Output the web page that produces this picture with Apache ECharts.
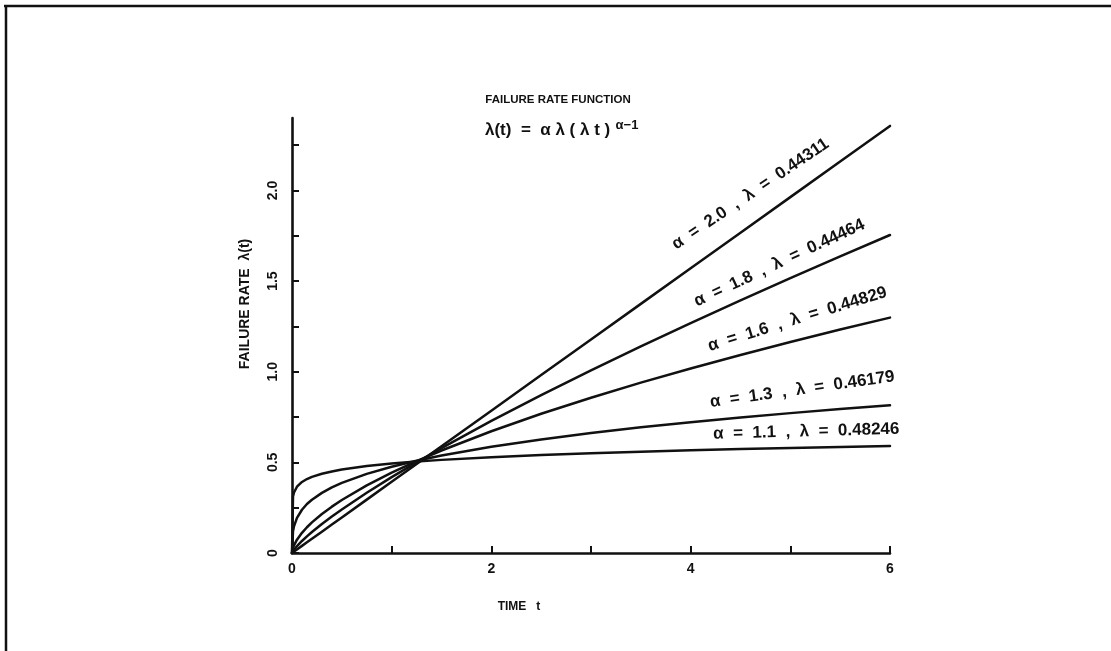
<!DOCTYPE html>
<html>
<head>
<meta charset="utf-8">
<script src="https://cdn.jsdelivr.net/npm/echarts@6/dist/echarts.min.js"></script>
<style>
  html, body { margin: 0; padding: 0; background: #ffffff; }
  #chart { width: 1111px; height: 651px; }
</style>
</head>
<body>
<div id="chart"></div>
<script>
// Time points (t) at which each failure-rate curve is sampled
const timeT = [0, 0.01, 0.02, 0.05, 0.1, 0.15, 0.2, 0.3, 0.4, 0.5, 0.75, 1, 1.25, 1.5, 2, 2.5, 3, 3.5, 4, 4.5, 5, 5.5, 6];

// Failure rate λ(t) for each shape/scale pair
const rateA20 = [0, 0.0039, 0.0079, 0.0196, 0.0393, 0.0589, 0.0785, 0.1178, 0.1571, 0.1963, 0.2945, 0.3927, 0.4909, 0.5890, 0.7854, 0.9817, 1.1781, 1.3744, 1.5708, 1.7671, 1.9635, 2.1598, 2.3562];
const rateA18 = [0, 0.0105, 0.0183, 0.0381, 0.0663, 0.0917, 0.1155, 0.1597, 0.2010, 0.2403, 0.3324, 0.4185, 0.5002, 0.5788, 0.7286, 0.8710, 1.0077, 1.1400, 1.2685, 1.3939, 1.5165, 1.6366, 1.7546];
const rateA16 = [0, 0.0280, 0.0424, 0.0735, 0.1113, 0.1420, 0.1688, 0.2152, 0.2557, 0.2924, 0.3730, 0.4432, 0.5067, 0.5653, 0.6718, 0.7680, 0.8568, 0.9398, 1.0183, 1.0928, 1.1641, 1.2327, 1.2987];
const rateA13 = [0, 0.1196, 0.1472, 0.1938, 0.2386, 0.2702, 0.2938, 0.3318, 0.3620, 0.3867, 0.4368, 0.4761, 0.5091, 0.5377, 0.5862, 0.6268, 0.6620, 0.6933, 0.7217, 0.7476, 0.7717, 0.7940, 0.8150];
const rateA11 = [0, 0.3113, 0.3337, 0.3657, 0.3919, 0.4081, 0.4201, 0.4374, 0.4501, 0.4604, 0.4794, 0.4934, 0.5046, 0.5138, 0.5288, 0.5408, 0.5507, 0.5593, 0.5668, 0.5735, 0.5796, 0.5851, 0.5902];

const curveNames = [
  'α  =  2.0  ,  λ  =  0.44311',
  'α  =  1.8  ,  λ  =  0.44464',
  'α  =  1.6  ,  λ  =  0.44829',
  'α  =  1.3  ,  λ  =  0.46179',
  'α  =  1.1  ,  λ  =  0.48246'
];
const curveValues = [rateA20, rateA18, rateA16, rateA13, rateA11];

// Curve label anchors in data space (t, λ) and their slant in degrees
const labelAnchorT = [4.60, 4.89, 5.07, 5.12, 5.16];
const labelAnchorY = [1.980, 1.600, 1.290, 0.902, 0.670];
const labelAngle = [34, 25, 17, 8, 1.5];

// Axis ticks and labels
const xTickValues = [0, 1, 2, 3, 4, 5, 6];
const xLabelValues = [0, 2, 4, 6];
const yTickValues = [0, 0.25, 0.5, 0.75, 1, 1.25, 1.5, 1.75, 2, 2.25];
const yLabelValues = [0, 0.5, 1, 1.5, 2];

const titleText = 'FAILURE RATE FUNCTION';
const xAxisTitle = 'TIME   t';
const yAxisTitle = 'FAILURE RATE  λ(t)';

const FONT = '"Liberation Sans", Arial, sans-serif';
const INK = '#111111';

const chart = echarts.init(document.getElementById('chart'), null, { renderer: 'canvas' });

const series = curveValues.map((vals, i) => ({
  name: curveNames[i],
  type: 'line',
  data: timeT.map((t, k) => [t, vals[k]]),
  showSymbol: false,
  smooth: false,
  silent: true,
  lineStyle: { color: INK, width: 2.5, join: 'round', cap: 'round' },
  z: 3
}));

chart.setOption({
  backgroundColor: '#ffffff',
  animation: false,
  grid: { left: 292, right: 221, top: 118, bottom: 98, containLabel: false },
  xAxis: {
    type: 'value',
    min: 0, max: 6,
    axisLine: { show: true, onZero: false, lineStyle: { color: INK, width: 2.6 } },
    axisTick: { show: true, inside: true, length: 7, customValues: xTickValues, lineStyle: { color: INK, width: 2 } },
    axisLabel: {
      customValues: xLabelValues,
      color: INK, fontFamily: FONT, fontWeight: 'bold', fontSize: 14, margin: 9,
      formatter: v => String(v)
    },
    splitLine: { show: false }
  },
  yAxis: {
    type: 'value',
    min: 0, max: 2.4,
    axisLine: { show: true, onZero: false, lineStyle: { color: INK, width: 2.6 } },
    axisTick: { show: true, inside: true, length: 7, customValues: yTickValues, lineStyle: { color: INK, width: 2 } },
    axisLabel: {
      customValues: yLabelValues,
      rotate: 90,
      color: INK, fontFamily: FONT, fontWeight: 'bold', fontSize: 14, margin: 12,
      formatter: v => (v === 0 ? '0' : v.toFixed(1))
    },
    splitLine: { show: false }
  },
  series: series
});

// Fixed page furniture: frame rules, title, formula and axis titles
const furniture = [
  { type: 'line', shape: { x1: 4, y1: 6, x2: 1111, y2: 6 }, style: { stroke: INK, lineWidth: 2.5 }, silent: true },
  { type: 'line', shape: { x1: 6, y1: 5, x2: 6, y2: 651 }, style: { stroke: INK, lineWidth: 2.5 }, silent: true },
  {
    type: 'text', silent: true, x: 558, y: 100,
    style: { text: titleText, x: 0, y: 0, align: 'center', verticalAlign: 'middle', fill: INK, font: 'bold 11.5px ' + FONT }
  },
  {
    type: 'text', silent: true, x: 485, y: 130,
    style: {
      x: 0, y: 0, align: 'left', verticalAlign: 'middle', fill: INK,
      text: '{m|λ(t)  =  α λ ( λ t )} {s|α−1}',
      rich: {
        m: { fontFamily: FONT, fontWeight: 'bold', fontSize: 17, fill: INK },
        s: { fontFamily: FONT, fontWeight: 'bold', fontSize: 13, fill: INK, verticalAlign: 'top', padding: [0, 0, 10, 2] }
      }
    }
  },
  {
    type: 'text', silent: true, x: 519, y: 607,
    style: { text: xAxisTitle, x: 0, y: 0, align: 'center', verticalAlign: 'middle', fill: INK, font: 'bold 12px ' + FONT }
  },
  {
    type: 'text', silent: true, x: 245, y: 304, rotation: Math.PI / 2,
    style: { text: yAxisTitle, x: 0, y: 0, align: 'center', verticalAlign: 'middle', fill: INK, font: 'bold 14px ' + FONT }
  }
];

// Curve labels, slanted along each line and placed from data-space anchors
const curveLabels = curveNames.map((name, i) => {
  const p = chart.convertToPixel({ gridIndex: 0 }, [labelAnchorT[i], labelAnchorY[i]]);
  return {
    type: 'text', silent: true,
    x: p[0], y: p[1],
    rotation: labelAngle[i] * Math.PI / 180,
    style: { text: name, x: 0, y: 0, align: 'center', verticalAlign: 'middle', fill: INK, font: 'bold 17px ' + FONT }
  };
});

chart.setOption({ graphic: furniture.concat(curveLabels) }, { replaceMerge: ['graphic'] });
</script>
</body>
</html>
